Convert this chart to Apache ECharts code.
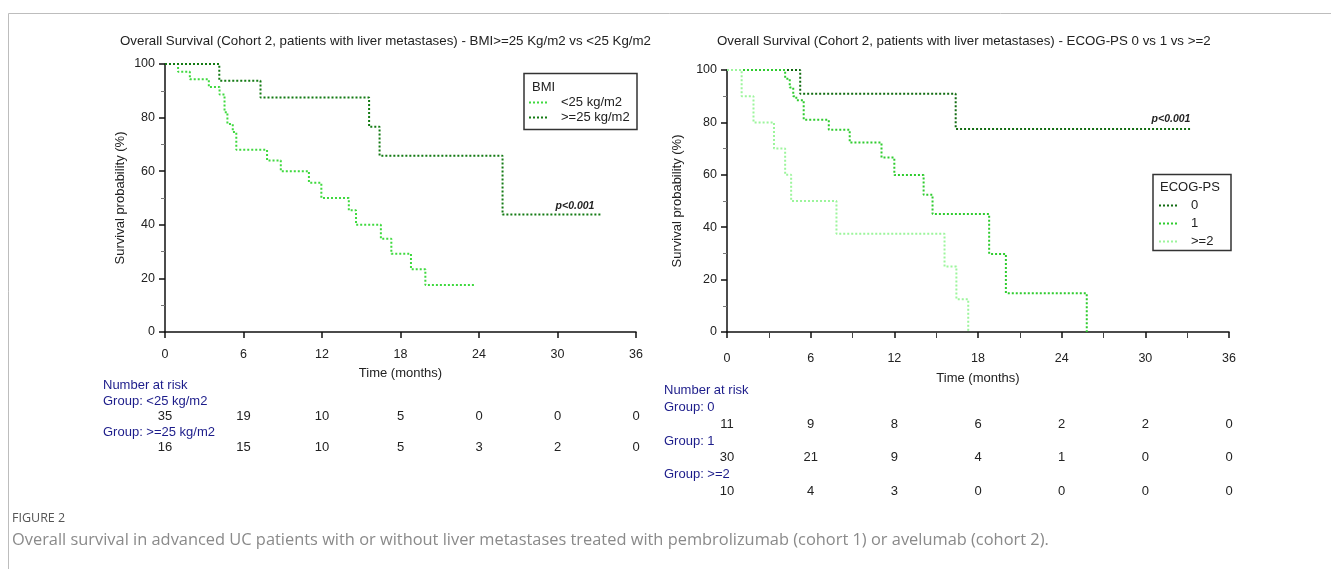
<!DOCTYPE html>
<html>
<head>
<meta charset="utf-8">
<script src="https://cdn.jsdelivr.net/npm/echarts@6/dist/echarts.min.js"></script>
<style>
html,body{margin:0;padding:0;background:#fff;}
#c{width:1331px;height:569px;}
</style>
</head>
<body>
<div id="c"></div>
<script>
// ---------- DATA ----------
const riskMonths = [0, 6, 12, 18, 24, 30, 36];
const xTicks = [0, 6, 12, 18, 24, 30, 36];
const yTicks = [0, 20, 40, 60, 80, 100];

// Left panel: BMI
const bmiLowTime = [0, 1.0, 1.9, 3.35, 4.17, 4.55, 4.77, 5.18, 5.45, 7.8, 8.85, 11.0, 11.95, 14.05, 14.6, 16.5, 17.3, 18.8, 19.9, 23.7];
const bmiLowSurv = [100, 97.1, 94.3, 91.4, 88.6, 82.0, 77.6, 74.6, 68.0, 64.0, 60.0, 55.7, 50.0, 45.4, 40.0, 34.8, 29.2, 23.4, 17.5, 17.5];
const bmiHighTime = [0, 4.15, 7.3, 15.6, 16.4, 25.8, 33.3];
const bmiHighSurv = [100, 93.75, 87.5, 76.6, 65.8, 43.8, 43.8];
const riskBmiLow = [35, 19, 10, 5, 0, 0, 0];
const riskBmiHigh = [16, 15, 10, 5, 3, 2, 0];

// Right panel: ECOG-PS
const ecog0Time = [0, 5.25, 16.4, 33.3];
const ecog0Surv = [100, 90.9, 77.5, 77.5];
const ecog1Time = [0, 4.17, 4.5, 4.75, 4.97, 5.5, 7.3, 8.8, 11.08, 12.0, 14.1, 14.74, 18.8, 20.0, 25.8];
const ecog1Surv = [100, 96.7, 93.3, 90.0, 88.5, 81.0, 77.2, 72.3, 66.6, 59.9, 52.4, 45.0, 29.8, 14.8, 0];
const ecog2Time = [0, 1.05, 1.9, 3.37, 4.17, 4.6, 7.85, 15.6, 16.45, 17.3];
const ecog2Surv = [100, 90, 80, 70, 60, 50, 37.5, 25, 12.5, 0];
const riskEcog0 = [11, 9, 8, 6, 2, 2, 0];
const riskEcog1 = [30, 21, 9, 4, 1, 0, 0];
const riskEcog2 = [10, 4, 3, 0, 0, 0, 0];

// ---------- STYLE ----------
const FONT = "Arial, 'Liberation Sans', sans-serif";
const CAP_FONT = "'Open Sans', sans-serif";
const C_LOW = '#3fd93f', C_HIGH = '#137a13';
const C_E0 = '#126c12', C_E1 = '#2fcc2f', C_E2 = '#9cf59c';
const NAVY = '#1c1c8a';

function pts(t, s) { return t.map((v, i) => [v, s[i]]); }

function xAxis(gridIndex, minor, labelMargin, nameGap) {
  return {
    type: 'value', gridIndex, min: 0, max: 36, interval: 6,
    name: 'Time (months)', nameLocation: 'middle', nameGap,
    nameTextStyle: { fontFamily: FONT, fontSize: 13, color: '#222' },
    axisLine: { show: true, onZero: false, lineStyle: { color: '#111', width: 1.5 } },
    axisTick: { show: true, inside: false, length: 6, lineStyle: { color: '#111', width: 1.5 } },
    minorTick: { show: minor, splitNumber: 2, length: 6, lineStyle: { color: '#444', width: 1 } },
    axisLabel: { fontFamily: FONT, fontSize: 12.5, color: '#222', margin: labelMargin },
    splitLine: { show: false }
  };
}
function yAxis(gridIndex, nameGap) {
  return {
    type: 'value', gridIndex, min: 0, max: 100, interval: 20,
    name: 'Survival probability (%)', nameLocation: 'middle', nameGap,
    nameTextStyle: { fontFamily: FONT, fontSize: 13, color: '#222' },
    axisLine: { show: true, onZero: false, lineStyle: { color: '#111', width: 1.5 } },
    axisTick: { show: true, inside: false, length: 6, lineStyle: { color: '#111', width: 1.5 } },
    minorTick: { show: true, splitNumber: 2, length: 4, lineStyle: { color: '#777', width: 1 } },
    axisLabel: { fontFamily: FONT, fontSize: 12.5, color: '#222', margin: 10 },
    splitLine: { show: false }
  };
}
function km(name, t, s, color, xi) {
  return {
    name, type: 'line', xAxisIndex: xi, yAxisIndex: xi, step: 'end',
    data: pts(t, s), symbol: 'none', showSymbol: false, animation: false,
    lineStyle: { color, width: 2, type: [2, 2] }, itemStyle: { color }
  };
}

const chart = echarts.init(document.getElementById('c'), null, { renderer: 'canvas' });
const option = {
  backgroundColor: '#fff',
  animation: false,
  title: [
    { text: 'Overall Survival (Cohort 2, patients with liver metastases) - BMI>=25 Kg/m2 vs <25 Kg/m2',
      left: 120, top: 35, padding: 0, textStyle: { fontFamily: FONT, fontSize: 13.3, fontWeight: 'normal', color: '#222' } },
    { text: 'Overall Survival (Cohort 2, patients with liver metastases) - ECOG-PS 0 vs 1 vs >=2',
      left: 717, top: 35, padding: 0, textStyle: { fontFamily: FONT, fontSize: 13.3, fontWeight: 'normal', color: '#222' } }
  ],
  grid: [
    { left: 165, top: 64, width: 471, height: 268, outerBoundsMode: 'none' },
    { left: 727, top: 70, width: 502, height: 262, outerBoundsMode: 'none' }
  ],
  xAxis: [xAxis(0, false, 16, 35), xAxis(1, true, 20, 40)],
  yAxis: [yAxis(0, 38), yAxis(1, 43)],
  legend: [
    { data: ['<25 kg/m2', '>=25 kg/m2'], orient: 'vertical', left: 528, top: 96,
      itemWidth: 20, itemHeight: 13, itemGap: 2, padding: 0,
      itemStyle: { opacity: 0 },
      textStyle: { fontFamily: FONT, fontSize: 13, color: '#222', padding: [0, 0, 0, 7] } },
    { data: ['0', '1', '>=2'], orient: 'vertical', left: 1158, top: 199,
      itemWidth: 20, itemHeight: 13, itemGap: 5, padding: 0,
      itemStyle: { opacity: 0 },
      textStyle: { fontFamily: FONT, fontSize: 13, color: '#222', padding: [0, 0, 0, 7] } }
  ],
  series: [
    km('<25 kg/m2', bmiLowTime, bmiLowSurv, C_LOW, 0),
    km('>=25 kg/m2', bmiHighTime, bmiHighSurv, C_HIGH, 0),
    km('0', ecog0Time, ecog0Surv, C_E0, 1),
    km('1', ecog1Time, ecog1Surv, C_E1, 1),
    km('>=2', ecog2Time, ecog2Surv, C_E2, 1)
  ]
};
chart.setOption(option);

// ---------- GRAPHIC (frame, legend boxes, p-values, risk tables, caption) ----------
function txt(x, y, s, opt) {
  return { type: 'text', x, y, silent: true,
    style: Object.assign({ text: s, fontFamily: FONT, fontSize: 13, fill: '#222',
      textAlign: 'left', textVerticalAlign: 'middle' }, (opt || {})) };
}
const g = [];
// outer frame lines
g.push({ type: 'line', shape: { x1: 8.5, y1: 13.5, x2: 1331, y2: 13.5 }, style: { stroke: '#bdbdbd', lineWidth: 1 } });
g.push({ type: 'line', shape: { x1: 8.5, y1: 13.5, x2: 8.5, y2: 569 }, style: { stroke: '#bdbdbd', lineWidth: 1 } });
// legend boxes + titles
g.push({ type: 'rect', shape: { x: 524, y: 73.5, width: 113, height: 56 }, style: { fill: 'none', stroke: '#333', lineWidth: 1.5 }, z: 0 });
g.push(txt(532, 87, 'BMI'));
g.push({ type: 'rect', shape: { x: 1153, y: 174.5, width: 78, height: 76 }, style: { fill: 'none', stroke: '#333', lineWidth: 1.5 }, z: 0 });
g.push(txt(1160, 187, 'ECOG-PS'));
// p-values
g.push(txt(575, 206, 'p<0.001', { fontSize: 10.5, fontWeight: 'bold', fontStyle: 'italic', textAlign: 'center' }));
g.push(txt(1171, 119, 'p<0.001', { fontSize: 10.5, fontWeight: 'bold', fontStyle: 'italic', textAlign: 'center' }));

// risk tables, numbers aligned to axis ticks
function riskRow(xi, y, arr) {
  arr.forEach((v, i) => {
    const px = chart.convertToPixel({ xAxisIndex: xi }, riskMonths[i]);
    g.push(txt(px, y, String(v), { textAlign: 'center' }));
  });
}
g.push(txt(103, 385, 'Number at risk', { fill: NAVY }));
g.push(txt(103, 401, 'Group: <25 kg/m2', { fill: NAVY }));
riskRow(0, 416, riskBmiLow);
g.push(txt(103, 432, 'Group: >=25 kg/m2', { fill: NAVY }));
riskRow(0, 447, riskBmiHigh);

g.push(txt(664, 390, 'Number at risk', { fill: NAVY }));
g.push(txt(664, 407, 'Group: 0', { fill: NAVY }));
riskRow(1, 424, riskEcog0);
g.push(txt(664, 441, 'Group: 1', { fill: NAVY }));
riskRow(1, 457, riskEcog1);
g.push(txt(664, 474, 'Group: >=2', { fill: NAVY }));
riskRow(1, 491, riskEcog2);

// caption
g.push(txt(12, 518, 'FIGURE 2', { fontFamily: CAP_FONT, fontSize: 12.5, fill: '#555' }));
g.push(txt(12, 540, 'Overall survival in advanced UC patients with or without liver metastases treated with pembrolizumab (cohort 1) or avelumab (cohort 2).',
  { fontFamily: CAP_FONT, fontSize: 16.4, fill: '#8a8a8a' }));

chart.setOption({ graphic: { elements: g } });
</script>
</body>
</html>
